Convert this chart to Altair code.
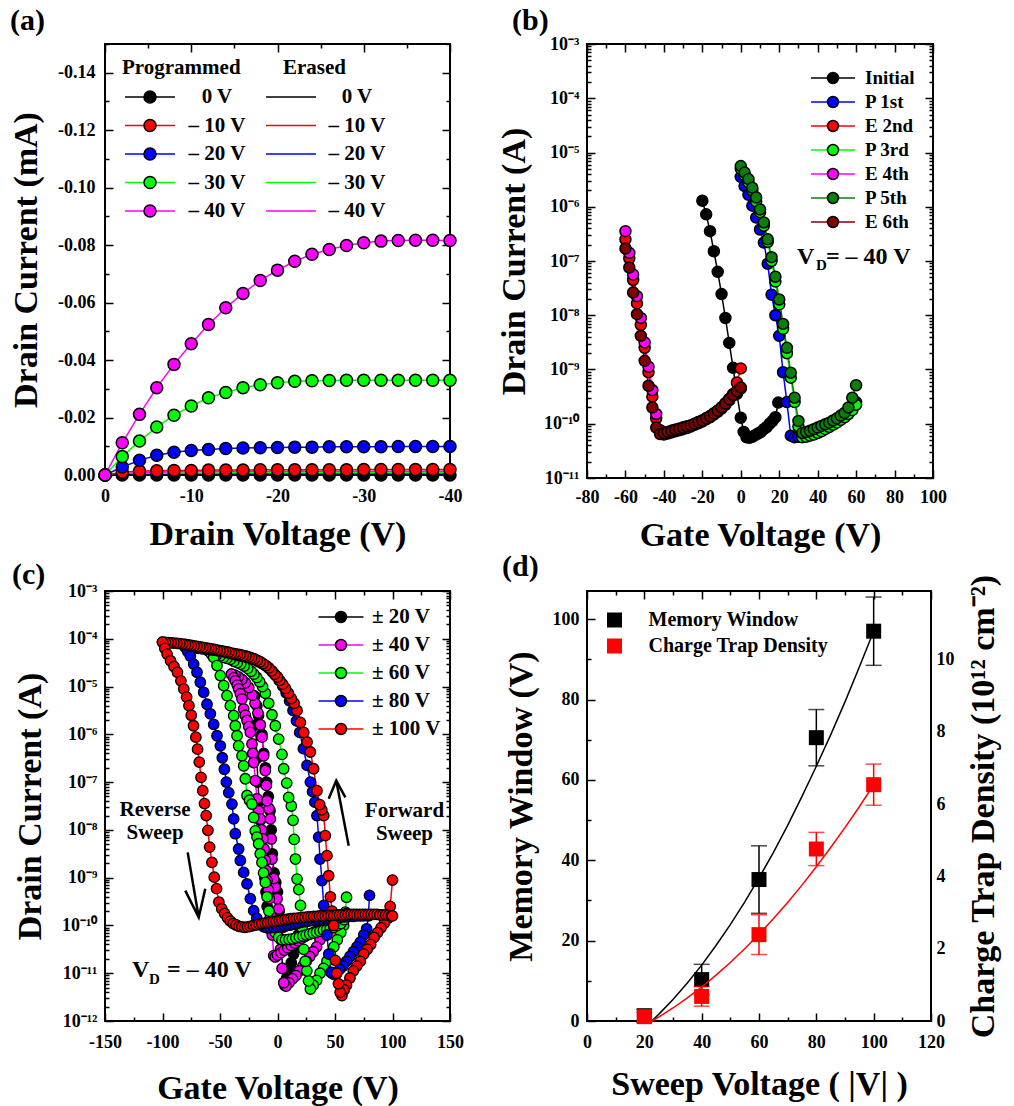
import altair as alt
import pandas as pd

FONT = "Liberation Serif"
EN = "\u2013"

# ---------------- (a) output characteristics ----------------
A_VD = [0, -2, -4, -6, -8, -10, -12, -14, -16, -18, -20, -22, -24, -26, -28, -30, -32, -34, -36, -38, -40]
A_LABELS = ["0 V", EN + " 10 V", EN + " 20 V", EN + " 30 V", EN + " 40 V"]
A_COLORS = ["#000000", "#ff0000", "#0000ff", "#00ff00", "#ff00ff"]
A_PROG_0 = [0, 0, 0, 0, 0, 0, 0, 0, 0, 0, 0, 0, 0, 0, 0, 0, 0, 0, 0, 0, 0]
A_PROG_10 = [0, -.0010, -.0014, -.0015, -.0016, -.0016, -.0017, -.0017, -.0017, -.0018, -.0018, -.0018, -.0018, -.0018, -.0018, -.0019, -.0019, -.0019, -.0019, -.0019, -.0019]
A_PROG_20 = [0, -.0028, -.0051, -.0069, -.0079, -.0085, -.0089, -.0092, -.0094, -.0095, -.0096, -.0097, -.0097, -.0098, -.0098, -.0098, -.0098, -.0099, -.0099, -.0099, -.0099]
A_PROG_30 = [0, -.0064, -.0118, -.0167, -.0208, -.0240, -.0269, -.0287, -.0304, -.0314, -.0321, -.0326, -.0328, -.0329, -.0330, -.0330, -.0330, -.0330, -.0330, -.0330, -.0330]
A_PROG_40 = [0, -.0112, -.0211, -.0304, -.0385, -.0457, -.0524, -.0582, -.0632, -.0677, -.0713, -.0744, -.0768, -.0785, -.0799, -.0808, -.0814, -.0816, -.0817, -.0817, -.0816]
A_ERASE_0 = [0, 0, 0, 0, 0, 0, 0, 0, 0, 0, 0, 0, 0, 0, 0, 0, 0, 0, 0, 0, 0]
A_ERASE_10 = [0, -.0001, -.0001, -.0002, -.0002, -.0002, -.0002, -.0002, -.0002, -.0002, -.0002, -.0002, -.0002, -.0002, -.0002, -.0002, -.0002, -.0002, -.0002, -.0002, -.0002]
A_ERASE_20 = [0, -.0002, -.0003, -.0003, -.0004, -.0004, -.0004, -.0004, -.0004, -.0004, -.0004, -.0004, -.0004, -.0004, -.0004, -.0004, -.0004, -.0004, -.0004, -.0004, -.0004]
A_ERASE_30 = [0, -.0003, -.0005, -.0006, -.0007, -.0007, -.0007, -.0008, -.0008, -.0008, -.0008, -.0008, -.0008, -.0008, -.0008, -.0008, -.0008, -.0008, -.0008, -.0008, -.0008]
A_ERASE_40 = [0, -.0005, -.0008, -.0010, -.0011, -.0012, -.0012, -.0013, -.0013, -.0013, -.0013, -.0013, -.0013, -.0013, -.0013, -.0013, -.0013, -.0013, -.0013, -.0013, -.0013]
A_X_TICKS = [0, -5, -10, -15, -20, -25, -30, -35, -40]
A_Y_TICKS = [0, -0.01, -0.02, -0.03, -0.04, -0.05, -0.06, -0.07, -0.08, -0.09, -0.10, -0.11, -0.12, -0.13, -0.14, -0.15]

# ---------------- (b) transfer curves, P/E cycles (log10 of current in A) ----------------
B_LABELS = ["Initial", "P 1st", "E 2nd", "P 3rd", "E 4th", "P 5th", "E 6th"]
B_COLORS = ["#000000", "#0000ff", "#ff0000", "#00ff00", "#ff00ff", "#0a800a", "#800000"]
B_V_INIT = [-20, -18, -16, -14, -12, -10, -8, -6, -4, -2, 0, 1.5, 3, 4.5, 6, 7.5, 9, 10.5, 12, 13.5, 15, 16.5, 18, 19.5]
B_L_INIT = [-5.89, -6.14, -6.45, -6.82, -7.20, -7.61, -8.05, -8.51, -8.97, -9.45, -9.89, -10.15, -10.25, -10.26, -10.24, -10.21, -10.18, -10.15, -10.1, -10.06, -10.0, -9.95, -9.88, -9.61]
B_V_P = [0, 2, 4, 6, 8, 10, 12, 14, 16, 18, 20, 22, 24, 26, 28, 30, 32, 34, 36, 38, 40, 42, 44, 46, 48, 50, 52, 54, 56, 58, 60]
B_L_P1 = [-5.45, -5.62, -5.78, -5.98, -6.2, -6.42, -6.66, -7.05, -7.62, -8.0, -8.38, -9.05, -9.6, -10.22, -10.25, -10.24, -10.22, -10.2, -10.18, -10.16, -10.13, -10.1, -10.07, -10.04, -10.0, -9.96, -9.92, -9.87, -9.8, -9.72, -9.6]
B_L_P3 = [-5.3, -5.42, -5.55, -5.7, -5.9, -6.1, -6.35, -6.65, -7.0, -7.38, -7.8, -8.25, -8.7, -9.15, -9.6, -10.05, -10.25, -10.24, -10.22, -10.2, -10.17, -10.14, -10.1, -10.06, -10.02, -9.98, -9.93, -9.88, -9.82, -9.75, -9.65]
B_L_P5 = [-5.25, -5.37, -5.49, -5.65, -5.83, -6.05, -6.29, -6.60, -6.93, -7.29, -7.71, -8.16, -8.60, -9.06, -9.52, -9.95, -10.17, -10.15, -10.13, -10.1, -10.07, -10.04, -10.01, -9.98, -9.94, -9.9, -9.85, -9.8, -9.7, -9.52, -9.29]
B_V_E = [-60, -58, -56, -54, -52, -50, -48, -46, -44, -42, -40, -38, -36, -34, -32, -30, -28, -26, -24, -22, -20, -18, -16, -14, -12, -10, -8, -6, -4, -2, 0]
B_L_E2 = [-6.60, -6.95, -7.35, -7.78, -8.18, -8.6, -9.05, -9.5, -9.9, -10.15, -10.17, -10.15, -10.13, -10.11, -10.09, -10.07, -10.05, -10.03, -10.0, -9.97, -9.94, -9.9, -9.86, -9.81, -9.76, -9.7, -9.62, -9.54, -9.45, -9.24, -8.98]
B_L_E4 = [-6.45, -6.85, -7.25, -7.65, -8.05, -8.5, -8.95, -9.38, -9.82, -10.12, -10.2, -10.18, -10.16, -10.14, -10.12, -10.1, -10.08, -10.05, -10.02, -9.99, -9.96, -9.92, -9.88, -9.83, -9.78, -9.72, -9.65, -9.57, -9.48, -9.4, -9.35]
B_L_E6 = [-6.77, -7.12, -7.58, -7.98, -8.38, -8.84, -9.30, -9.70, -10.07, -10.19, -10.17, -10.15, -10.13, -10.11, -10.09, -10.07, -10.05, -10.03, -10.0, -9.97, -9.94, -9.9, -9.86, -9.81, -9.76, -9.7, -9.63, -9.55, -9.47, -9.4, -9.33]
B_X_TICKS = [-80, -70, -60, -50, -40, -30, -20, -10, 0, 10, 20, 30, 40, 50, 60, 70, 80, 90, 100]
B_DECADES = [-11, -10, -9, -8, -7, -6, -5, -4, -3]
B_VD_TEXT = (29.2, -7.06)

# ---------------- (c) hysteresis for sweep ranges (log10 of current in A) ----------------
C_LABELS = ["\u00b1 20 V", "\u00b1 40 V", "\u00b1 60 V", "\u00b1 80 V", "\u00b1 100 V"]
C_COLORS = ["#000000", "#ff00ff", "#00ff00", "#0000ff", "#ff0000"]
C20_FV = [20, 18, 16, 14, 12, 10, 8, 6.5, 5.5, 4.5, 3, 1.5, 0, -1.5, -3, -4.5, -5.5, -6.5, -8, -9.5, -10.5, -12, -13.5, -15, -16.5, -18, -20]
C20_FL = [-9.95, -10.2, -10.4, -10.6, -10.78, -10.95, -11.1, -11.26, -11.2, -10.9, -10.3, -9.7, -9.3, -9.1, -8.9, -8.5, -8.0, -7.6, -7.3, -7.0, -6.7, -6.4, -6.0, -5.8, -5.6, -5.4, -5.2]
C20_RV = [-20, -19, -18, -17, -16, -15, -14, -13, -12, -11, -10, -9, -7.5, -5.5, -3.5, -1.5, 0.5, 2.5, 4.5, 6.5, 8.5, 10.5, 12.5, 14.5, 16.5, 18.5, 20]
C20_RL = [-5.2, -5.8, -6.5, -7.0, -7.4, -7.8, -8.1, -8.4, -8.7, -9.0, -9.3, -9.6, -9.9, -10.1, -10.12, -10.1, -10.08, -10.06, -10.04, -10.02, -10.0, -9.99, -9.98, -9.97, -9.96, -9.95, -9.95]
C40_FV = [40, 37, 34, 31, 28, 25, 22, 19, 16, 13, 10, 7.5, 5.5, 4, 2.5, 1, -0.4, -2, -3.3, -4.8, -5.4, -6.2, -7.5, -9.1, -9.7, -10.6, -12.1, -13.5, -15, -17, -19.5, -22, -25, -28, -31, -34, -37, -40]
C40_FL = [-10.14, -10.3, -10.45, -10.55, -10.65, -10.75, -10.85, -10.95, -11.05, -11.12, -11.2, -11.27, -11.2, -10.9, -10.5, -9.65, -9.44, -9.2, -9.02, -8.61, -8.19, -7.77, -7.55, -7.39, -7.07, -6.76, -6.45, -6.06, -5.8, -5.55, -5.35, -5.18, -5.02, -4.92, -4.85, -4.8, -4.76, -4.74]
C40_RV = [-40, -38, -36.7, -35, -33.8, -32.3, -30.9, -29.4, -28, -26.5, -25, -23.6, -22.2, -21.5, -20.7, -19.3, -17.8, -16.4, -15, -13.8, -12.6, -11.6, -10.6, -9.8, -9.1, -8, -7.1, -6, -4.5, -3.3, -1.9, 0, 3, 6, 9, 12, 15, 18, 21, 24, 27, 30, 33, 36, 40]
C40_RL = [-4.74, -4.82, -4.88, -4.97, -5.05, -5.15, -5.26, -5.47, -5.6, -5.71, -5.84, -5.96, -6.20, -6.4, -6.59, -6.97, -7.35, -7.6, -7.77, -8.0, -8.19, -8.4, -8.64, -8.85, -9.06, -9.25, -9.44, -9.8, -10.2, -10.63, -10.66, -10.62, -10.57, -10.52, -10.47, -10.42, -10.37, -10.32, -10.27, -10.23, -10.19, -10.16, -10.13, -10.1, -10.07]
C60_FV = [60, 59, 57.5, 55, 52, 49, 46, 43, 40, 37, 34, 31, 28.6, 27, 25.5, 24, 22.8, 21.4, 20, 18.5, 17, 15.6, 14.5, 13.5, 12, 9.7, 8, 5.4, 3.9, 1, -1.9, -4.8, -7.7, -10.6, -13, -15.5, -18, -20.5, -23, -26, -29, -32, -35, -38, -41, -44, -47, -50, -53, -56, -60]
C60_FL = [-9.41, -9.72, -10.0, -10.15, -10.3, -10.45, -10.6, -10.75, -10.9, -11.0, -11.15, -11.25, -11.33, -11.16, -10.95, -10.75, -10.5, -10.05, -9.58, -9.25, -9.03, -8.61, -8.2, -7.8, -7.5, -7.32, -7.02, -6.72, -6.42, -6.10, -5.82, -5.59, -5.35, -5.14, -5.0, -4.9, -4.81, -4.74, -4.68, -4.62, -4.57, -4.53, -4.5, -4.47, -4.43, -4.41, -4.39, -4.36, -4.34, -4.31, -4.25]
C60_RV = [-60, -57.5, -55.5, -52.6, -49.7, -46.8, -43.9, -41, -38.1, -36.7, -35.2, -33.8, -30.9, -29.4, -28, -26.5, -24.3, -22.2, -20.7, -19.3, -17.8, -16.4, -15, -13.5, -12.1, -10.6, -9.1, -7.5, -5, -2, 1, 4, 7, 10, 13, 16, 19, 22, 25, 28, 31, 34, 37, 40, 43, 46, 49, 52, 55, 58, 60]
C60_RL = [-4.25, -4.32, -4.39, -4.56, -4.77, -4.98, -5.19, -5.40, -5.61, -5.82, -6.03, -6.24, -6.45, -6.66, -6.93, -7.28, -7.38, -7.46, -7.74, -8.02, -8.15, -8.29, -8.5, -8.68, -8.9, -9.1, -9.4, -9.7, -9.95, -10.15, -10.25, -10.3, -10.3, -10.29, -10.28, -10.26, -10.24, -10.22, -10.2, -10.18, -10.16, -10.14, -10.12, -10.1, -10.08, -10.06, -10.04, -10.0, -9.96, -9.88, -9.75]
C80_FV = [80, 79, 77.5, 75, 72, 69, 66, 63, 60, 57, 54, 51, 48.5, 46.5, 44.5, 43, 41.5, 40.2, 38.7, 37, 35.8, 34.3, 32.5, 30.5, 28.6, 25.7, 22.5, 19.3, 16.5, 13.5, 10.5, 7.5, 4.5, 1.5, -1.5, -4.5, -7.5, -10.5, -13.5, -16.5, -20, -23.5, -27, -30.5, -34, -37.5, -41, -44.5, -48, -51.5, -55, -58.5, -62, -65.5, -69, -72.5, -76, -80]
C80_FL = [-9.37, -9.8, -10.07, -10.2, -10.35, -10.45, -10.55, -10.65, -10.75, -10.85, -10.92, -11.0, -11.02, -10.98, -10.6, -10.2, -9.9, -9.58, -9.06, -8.61, -8.15, -7.70, -7.42, -7.2, -7.0, -6.65, -6.3, -5.96, -5.72, -5.5, -5.3, -5.13, -4.99, -4.87, -4.77, -4.69, -4.62, -4.56, -4.52, -4.48, -4.44, -4.41, -4.39, -4.37, -4.35, -4.33, -4.31, -4.29, -4.27, -4.25, -4.24, -4.23, -4.22, -4.21, -4.2, -4.19, -4.185, -4.18]
C80_RV = [-80, -78, -75.8, -72.9, -70, -67.1, -64.2, -61.3, -58.4, -55.5, -52.6, -49.7, -48, -46.2, -44.5, -42.4, -39.6, -38.1, -36.7, -33.8, -32.3, -29.4, -26.5, -23.6, -20.7, -18, -15, -12, -9, -6, -3, 0, 3, 6, 9, 12, 15, 18, 21, 24, 27, 30, 33, 36, 39, 42, 45, 48, 51, 54, 57, 60, 63, 66, 69, 72, 75, 78, 80]
C80_RL = [-4.18, -4.27, -4.36, -4.53, -4.70, -4.91, -5.12, -5.37, -5.57, -5.79, -6.03, -6.24, -6.49, -6.73, -7.0, -7.22, -7.46, -7.77, -8.08, -8.40, -8.64, -8.89, -9.13, -9.44, -9.69, -9.85, -9.97, -10.03, -10.05, -10.05, -10.04, -10.03, -10.02, -10.0, -9.99, -9.98, -9.96, -9.95, -9.93, -9.92, -9.91, -9.9, -9.89, -9.88, -9.87, -9.86, -9.85, -9.84, -9.83, -9.83, -9.82, -9.82, -9.81, -9.81, -9.8, -9.8, -9.8, -9.79, -9.79]
C100_FV = [100, 98, 96, 93, 90, 87, 84, 81, 78, 75, 72, 69, 66, 63, 60, 58, 56, 54.5, 53, 51.5, 50.3, 48.9, 47.5, 46, 44.5, 43, 41.6, 40.2, 38.5, 36.7, 34.3, 31.4, 28.6, 25.7, 22.8, 19.9, 17, 14.5, 12, 9.5, 7, 4.5, 2, 0, -2.5, -5, -7.5, -10, -12.5, -15, -17.5, -20, -22.5, -25, -27.5, -30, -32.5, -35, -37.5, -40, -42.5, -45, -47.5, -50, -52.5, -55, -57.5, -60, -62.5, -65, -67.5, -70, -72.5, -75, -77.5, -80, -82.5, -85, -87.5, -90, -92.5, -95, -97.5, -100]
C100_FL = [-9.05, -9.6, -9.85, -9.95, -10.05, -10.15, -10.25, -10.4, -10.5, -10.6, -10.75, -10.85, -10.95, -11.1, -11.25, -11.35, -11.47, -11.4, -11.22, -11.0, -10.73, -10.0, -9.7, -9.4, -8.96, -8.54, -8.12, -7.70, -7.58, -7.47, -7.18, -6.72, -6.37, -6.16, -5.96, -5.75, -5.50, -5.35, -5.25, -5.14, -5.04, -4.95, -4.87, -4.80, -4.74, -4.67, -4.61, -4.56, -4.52, -4.48, -4.45, -4.42, -4.40, -4.38, -4.36, -4.35, -4.33, -4.32, -4.31, -4.30, -4.28, -4.27, -4.26, -4.25, -4.24, -4.22, -4.21, -4.20, -4.19, -4.18, -4.17, -4.16, -4.15, -4.14, -4.13, -4.12, -4.11, -4.10, -4.095, -4.09, -4.085, -4.08, -4.075, -4.07]
C100_RV = [-100, -98, -96, -93, -90, -87, -84, -81.5, -79, -77, -75, -73, -71, -69.5, -68, -66.5, -65, -63.5, -62, -60.5, -59, -57, -55, -53, -51, -48.5, -46, -43.5, -41, -38.5, -36, -33.5, -31, -28.5, -26, -23.5, -21, -18.5, -16, -13.5, -11, -8.5, -6, -3.5, -1, 1.5, 4, 6.5, 9, 11.5, 14, 16.5, 19, 21.5, 24, 26.5, 29, 31.5, 34, 36.5, 39, 41.5, 44, 46.5, 49, 51.5, 54, 56.5, 59, 61.5, 64, 66.5, 69, 71.5, 74, 76.5, 79, 81.5, 84, 86.5, 89, 91.5, 94, 96.5, 99, 100]
C100_RL = [-4.07, -4.20, -4.32, -4.46, -4.58, -4.70, -4.88, -5.05, -5.22, -5.40, -5.60, -5.82, -6.06, -6.31, -6.58, -6.90, -7.18, -7.45, -7.70, -8.01, -8.36, -8.68, -8.99, -9.23, -9.51, -9.65, -9.75, -9.84, -9.91, -9.96, -9.99, -10.02, -10.03, -10.04, -10.03, -10.02, -10.00, -9.99, -9.97, -9.96, -9.95, -9.94, -9.93, -9.92, -9.91, -9.90, -9.89, -9.88, -9.87, -9.86, -9.85, -9.85, -9.84, -9.83, -9.83, -9.82, -9.82, -9.81, -9.81, -9.80, -9.80, -9.80, -9.79, -9.79, -9.79, -9.78, -9.78, -9.78, -9.78, -9.77, -9.77, -9.77, -9.77, -9.77, -9.77, -9.77, -9.77, -9.77, -9.77, -9.77, -9.78, -9.78, -9.78, -9.79, -9.80, -9.80]
C_X_TICKS = [-150, -125, -100, -75, -50, -25, 0, 25, 50, 75, 100, 125, 150]
C_DECADES = [-12, -11, -10, -9, -8, -7, -6, -5, -4, -3]
C_VD_TEXT = (-126.5, -11.08)
C_REV_TEXT = (-106.5, -7.70, -8.19)
C_FWD_TEXT = (110.4, -7.72, -8.22)
C_ARROW_DOWN = {"shaft": [(-78.1, -8.47), (-68.5, -9.83)], "head": [(-80.2, -9.27), (-68.5, -9.83), (-62.8, -9.23)]}
C_ARROW_UP = {"shaft": [(61.9, -8.33), (51.1, -6.97)], "head": [(44.5, -7.35), (51.1, -6.97), (59.0, -7.32)]}

# ---------------- (d) memory window & charge trap density ----------------
D_SWEEP = [20, 40, 60, 80, 100]
D_MW = [1.3, 10.3, 35.2, 70.5, 97.0]
D_MW_ERR = [1.6, 3.8, 8.4, 7.0, 8.5]
D_CT = [0.12, 0.68, 2.39, 4.76, 6.54]
D_CT_ERR = [0.12, 0.27, 0.55, 0.46, 0.57]
D_FIT_X = [22.6, 25, 30, 35, 40, 45, 50, 55, 60, 65, 70, 75, 80, 85, 90, 95, 100]
D_MW_FIT = [0, 1.65, 5.37, 9.47, 13.9, 18.8, 24.0, 29.6, 35.6, 41.9, 48.7, 55.9, 63.4, 71.2, 79.4, 88.1, 97.0]
D_CT_FIT = [0, 0.11, 0.36, 0.64, 0.94, 1.27, 1.62, 2.0, 2.40, 2.83, 3.28, 3.76, 4.27, 4.80, 5.35, 5.93, 6.54]
D_LABELS = ["Memory Window", "Charge Trap Density"]
D_COLORS = ["#000000", "#ff0000"]
D_X_TICKS = [0, 10, 20, 30, 40, 50, 60, 70, 80, 90, 100, 110, 120]
D_YL_TICKS = [0, 10, 20, 30, 40, 50, 60, 70, 80, 90, 100]
D_YR_TICKS = [0, 1, 2, 3, 4, 5, 6, 7, 8, 9, 10, 11]

# ---------------- panel sizes ----------------
W_A, H_A = 345, 431
W_B, H_B = 346, 434
W_C, H_C = 345, 430
W_D, H_D = 344, 430

SUP = str.maketrans("-0123456789", "\u207b\u2070\u00b9\u00b2\u00b3\u2074\u2075\u2076\u2077\u2078\u2079")


def lin_test(step):
    return f"abs(datum.value / {step} - round(datum.value / {step})) < 0.0001"


LOG_E = "round(log(datum.value) / LN10)"
LOG_TEST = f"abs(log(datum.value) / LN10 - {LOG_E}) < 0.001"


def log_label(decades):
    inner = "''"
    for k in decades:
        inner = f"{LOG_E} == {k} ? '10{str(k).translate(SUP)}' : ({inner})"
    return inner


def make_axis(title, values, test, label, major, minor, **kw):
    return alt.Axis(
        title=title, values=values,
        labelExpr=f"({test}) ? ({label}) : ''",
        gridDash={"condition": {"test": test, "value": major}, "value": minor},
        **kw)


def sym(L, length):
    return [L, length - 2 * L, L, 6000]


def log_ticks(decades):
    vals = []
    for d in decades:
        vals.append(10.0 ** d)
        if d != decades[-1]:
            for k in [2, 3, 4, 5, 6, 7, 8, 9]:
                vals.append(k * 10.0 ** d)
    return vals


def leg(**kw):
    base = dict(orient="none", direction="vertical", padding=0, labelLimit=400,
                labelFont=FONT, labelFontWeight="bold", labelColor="black",
                titleFont=FONT, titleFontWeight="bold", titleColor="black",
                symbolOpacity=1)
    base.update(kw)
    return alt.Legend(**base)


def series_frame(groups, xname):
    rows = []
    for lab, xs, ls in groups:
        for i, (x, l) in enumerate(zip(xs, ls)):
            rows.append({xname: x, "id": 10.0 ** l, "s": lab, "sl": lab + "  ", "idx": i})
    return pd.DataFrame(rows)


# ======================= panel (a) =======================
a_prog = []
for lab, vals in zip(A_LABELS, [A_PROG_0, A_PROG_10, A_PROG_20, A_PROG_30, A_PROG_40]):
    for i, (v, c) in enumerate(zip(A_VD, vals)):
        a_prog.append({"vd": v, "id": c, "p": lab, "pl": lab + "  ", "idx": i})
a_prog = pd.DataFrame(a_prog)
a_er = []
for lab, vals in zip(A_LABELS, [A_ERASE_0, A_ERASE_10, A_ERASE_20, A_ERASE_30, A_ERASE_40]):
    for i, (v, c) in enumerate(zip(A_VD, vals)):
        a_er.append({"vd": v, "id": c, "e": lab + " ", "idx": i})
a_er = pd.DataFrame(a_er)

ax_a_x = make_axis("Drain Voltage (V)", A_X_TICKS, lin_test(10),
                   "datum.value == 0 ? '0' : '-' + format(abs(datum.value), 'd')",
                   sym(8, H_A), sym(4, H_A), labelPadding=12, titlePadding=12)
ax_a_y = make_axis("Drain Current (mA)", A_Y_TICKS, lin_test(0.02),
                   "abs(datum.value) < 0.000001 ? '0.00' : '-' + format(abs(datum.value), '.2f')",
                   sym(8, W_A), sym(4, W_A), labelPadding=10, titlePadding=14)
xa = alt.X("vd:Q", scale=alt.Scale(domain=[0, -40], nice=False, zero=False), axis=ax_a_x)
ya = alt.Y("id:Q", scale=alt.Scale(domain=[0, -0.15], nice=False, zero=False), axis=ax_a_y)

A_LEG = dict(labelFontSize=21, titleFontSize=21, titlePadding=8.5, rowPadding=6.5, legendY=13)
a_erase_layer = alt.Chart(a_er).mark_line(strokeWidth=1.5).encode(
    x=xa, y=ya, order="idx:Q",
    color=alt.Color("e:N", scale=alt.Scale(domain=[l + " " for l in A_LABELS], range=A_COLORS),
                    legend=leg(title="Erased", legendX=178, symbolOffset=-2.5, labelOffset=55.5,
                               labelAlign="center", symbolType="M-5,0H5", symbolSize=100,
                               symbolStrokeWidth=1.5, symbolFillColor="transparent",
                               labelExpr="trim(datum.label)", **A_LEG)))
a_line_layer = alt.Chart(a_prog).mark_line(strokeWidth=1.5).encode(
    x=xa, y=ya, order="idx:Q",
    stroke=alt.Stroke("pl:N", scale=alt.Scale(domain=[l + "  " for l in A_LABELS], range=A_COLORS),
                      legend=leg(title="Programmed", legendX=17, symbolOffset=17.5, labelOffset=56.5,
                                 labelAlign="center", symbolType="M-5,0H5", symbolSize=100,
                                 symbolStrokeWidth=1.5, symbolFillColor="transparent",
                                 labelOpacity=0, titleOpacity=0, zindex=1, **A_LEG)))
a_pt_layer = alt.Chart(a_prog).mark_point(filled=True, shape="circle", size=144, stroke="black",
                                          strokeWidth=1.5, opacity=1).encode(
    x=xa, y=ya,
    fill=alt.Fill("p:N", scale=alt.Scale(domain=A_LABELS, range=A_COLORS),
                  legend=leg(title="Programmed", legendX=17, symbolOffset=17.5, labelOffset=56.5,
                             labelAlign="center", symbolType="circle", symbolSize=144,
                             symbolStrokeColor="black", symbolStrokeWidth=1.5, zindex=2, **A_LEG)))
panel_a = alt.layer(a_erase_layer, a_line_layer, a_pt_layer).properties(
    width=W_A, height=H_A,
    title=alt.TitleParams("(a)", anchor="start", frame="group", dx=-95, offset=-1))

# ======================= panel (b) =======================
b_df = series_frame([
    (B_LABELS[0], B_V_INIT, B_L_INIT), (B_LABELS[1], B_V_P, B_L_P1), (B_LABELS[2], B_V_E, B_L_E2),
    (B_LABELS[3], B_V_P, B_L_P3), (B_LABELS[4], B_V_E, B_L_E4), (B_LABELS[5], B_V_P, B_L_P5),
    (B_LABELS[6], B_V_E, B_L_E6)], "vg")
ax_b_x = make_axis("Gate Voltage (V)", B_X_TICKS, lin_test(20),
                   "datum.value < 0 ? '-' + abs(datum.value) : '' + datum.value",
                   sym(8, H_B), sym(4, H_B), labelPadding=10, titlePadding=12)
ax_b_y = make_axis("Drain Current (A)", log_ticks(B_DECADES), LOG_TEST, log_label(B_DECADES),
                   sym(8, W_B), sym(4, W_B), labelPadding=8, titlePadding=12)
xb = alt.X("vg:Q", scale=alt.Scale(domain=[-80, 100], nice=False, zero=False), axis=ax_b_x)
yb = alt.Y("id:Q", scale=alt.Scale(type="log", domain=[1e-11, 1e-3], nice=False), axis=ax_b_y)
B_LEG = dict(title=None, labelFontSize=19, rowPadding=4, legendX=236.5, legendY=24.5, labelOffset=22.5)
b_lines = alt.Chart(b_df).mark_line(strokeWidth=1.5).encode(
    x=xb, y=yb, order="idx:Q",
    stroke=alt.Stroke("sl:N", scale=alt.Scale(domain=[l + "  " for l in B_LABELS], range=B_COLORS),
                      legend=leg(symbolType="M-4.4,0H4.4", symbolSize=100, symbolStrokeWidth=1.5,
                                 symbolFillColor="transparent", labelOpacity=0, zindex=1, **B_LEG)))
b_pts = alt.Chart(b_df).mark_point(filled=True, shape="circle", size=121, stroke="black",
                                   strokeWidth=1.5, opacity=1).encode(
    x=xb, y=yb,
    fill=alt.Fill("s:N", scale=alt.Scale(domain=B_LABELS, range=B_COLORS),
                  legend=leg(symbolType="circle", symbolSize=121, symbolStrokeColor="black",
                             symbolStrokeWidth=1.5, zindex=2, **B_LEG)))
b_txt_df = pd.DataFrame([{"vg": B_VD_TEXT[0], "id": 10.0 ** B_VD_TEXT[1]}])
b_t1 = alt.Chart(b_txt_df).mark_text(text="V", align="left", baseline="alphabetic", font=FONT,
                                     fontWeight="bold", fontSize=24).encode(x=xb, y=yb)
b_t2 = alt.Chart(b_txt_df).mark_text(text="D", align="left", baseline="alphabetic", font=FONT,
                                     fontWeight="bold", fontSize=15, dx=19, dy=6).encode(x=xb, y=yb)
b_t3 = alt.Chart(b_txt_df).mark_text(text="= " + EN + " 40 V", align="left", baseline="alphabetic",
                                     font=FONT, fontWeight="bold", fontSize=24, dx=29).encode(x=xb, y=yb)
panel_b = alt.layer(b_lines, b_pts, b_t1, b_t2, b_t3).properties(
    width=W_B, height=H_B,
    title=alt.TitleParams("(b)", anchor="start", frame="group", dx=-75, offset=-1))

# ======================= panel (c) =======================
c_groups = [
    (C_LABELS[0], C20_FV + C20_RV, C20_FL + C20_RL),
    (C_LABELS[1], C40_FV + C40_RV, C40_FL + C40_RL),
    (C_LABELS[2], C60_FV + C60_RV, C60_FL + C60_RL),
    (C_LABELS[3], C80_FV + C80_RV, C80_FL + C80_RL),
    (C_LABELS[4], C100_FV + C100_RV, C100_FL + C100_RL)]
c_df = series_frame(c_groups, "vg")
ax_c_x = make_axis("Gate Voltage (V)", C_X_TICKS, lin_test(50),
                   "datum.value < 0 ? '-' + abs(datum.value) : '' + datum.value",
                   sym(8, H_C), sym(4, H_C), labelPadding=12, titlePadding=20)
ax_c_y = make_axis("Drain Current (A)", log_ticks(C_DECADES), LOG_TEST, log_label(C_DECADES),
                   sym(8, W_C), sym(4, W_C), labelPadding=8, titlePadding=14)
xc = alt.X("vg:Q", scale=alt.Scale(domain=[-150, 150], nice=False, zero=False), axis=ax_c_x)
yc = alt.Y("id:Q", scale=alt.Scale(type="log", domain=[1e-12, 1e-3], nice=False), axis=ax_c_y)
C_LEG = dict(title=None, labelFontSize=21, rowPadding=6, legendX=225.5, legendY=15.5, labelOffset=20.5)
c_lines = alt.Chart(c_df).mark_line(strokeWidth=1.5).encode(
    x=xc, y=yc, order="idx:Q",
    stroke=alt.Stroke("sl:N", scale=alt.Scale(domain=[l + "  " for l in C_LABELS], range=C_COLORS),
                      legend=leg(symbolType="M-4.5,0H4.5", symbolSize=100, symbolStrokeWidth=1.5,
                                 symbolFillColor="transparent", labelOpacity=0, zindex=1, **C_LEG)))
c_pts = alt.Chart(c_df).mark_point(filled=True, shape="circle", size=110, stroke="black",
                                   strokeWidth=1.3, opacity=1).encode(
    x=xc, y=yc,
    fill=alt.Fill("s:N", scale=alt.Scale(domain=C_LABELS, range=C_COLORS),
                  legend=leg(symbolType="circle", symbolSize=121, symbolStrokeColor="black",
                             symbolStrokeWidth=1.5, zindex=2, **C_LEG)))
arrow_rows = []
for name, arrow in [("down", C_ARROW_DOWN), ("up", C_ARROW_UP)]:
    for part, pts in arrow.items():
        for i, (v, l) in enumerate(pts):
            arrow_rows.append({"vg": v, "id": 10.0 ** l, "g": name + part, "idx": i})
c_arrows = alt.Chart(pd.DataFrame(arrow_rows)).mark_line(color="black", strokeWidth=2.5).encode(
    x=xc, y=yc, detail="g:N", order="idx:Q")
c_txt = pd.DataFrame([
    {"vg": C_REV_TEXT[0], "id": 10.0 ** C_REV_TEXT[1], "t": "Reverse"},
    {"vg": C_REV_TEXT[0], "id": 10.0 ** C_REV_TEXT[2], "t": "Sweep"},
    {"vg": C_FWD_TEXT[0], "id": 10.0 ** C_FWD_TEXT[1], "t": "Forward"},
    {"vg": C_FWD_TEXT[0], "id": 10.0 ** C_FWD_TEXT[2], "t": "Sweep"}])
c_words = alt.Chart(c_txt).mark_text(align="center", baseline="alphabetic", font=FONT,
                                     fontWeight="bold", fontSize=21).encode(x=xc, y=yc, text="t:N")
c_vd_df = pd.DataFrame([{"vg": C_VD_TEXT[0], "id": 10.0 ** C_VD_TEXT[1]}])
c_t1 = alt.Chart(c_vd_df).mark_text(text="V", align="left", baseline="alphabetic", font=FONT,
                                    fontWeight="bold", fontSize=24).encode(x=xc, y=yc)
c_t2 = alt.Chart(c_vd_df).mark_text(text="D", align="left", baseline="alphabetic", font=FONT,
                                    fontWeight="bold", fontSize=15, dx=17, dy=7).encode(x=xc, y=yc)
c_t3 = alt.Chart(c_vd_df).mark_text(text="= " + EN + " 40 V", align="left", baseline="alphabetic",
                                    font=FONT, fontWeight="bold", fontSize=24, dx=35).encode(x=xc, y=yc)
panel_c = alt.layer(c_lines, c_pts, c_arrows, c_words, c_t1, c_t2, c_t3).properties(
    width=W_C, height=H_C,
    title=alt.TitleParams("(c)", anchor="start", frame="group", dx=-93, offset=-8))

# ======================= panel (d) =======================
d_pts = pd.DataFrame({"sv": D_SWEEP, "mw": D_MW, "mw_lo": [m - e for m, e in zip(D_MW, D_MW_ERR)],
                      "mw_hi": [m + e for m, e in zip(D_MW, D_MW_ERR)], "ct": D_CT,
                      "ct_lo": [m - e for m, e in zip(D_CT, D_CT_ERR)],
                      "ct_hi": [m + e for m, e in zip(D_CT, D_CT_ERR)],
                      "s1": D_LABELS[0], "s2": D_LABELS[1]})
d_fit = pd.DataFrame({"sv": D_FIT_X, "mw": D_MW_FIT, "ct": D_CT_FIT})
ax_d_x = make_axis("Sweep Voltage ( |V| )", D_X_TICKS, lin_test(20), "'' + datum.value",
                   sym(8, H_D), sym(4, H_D), labelPadding=12, titlePadding=16)
ax_d_yl = make_axis("Memory Window (V)", D_YL_TICKS, lin_test(20), "'' + datum.value",
                    [8, 6000], [4, 6000], labelPadding=8, titlePadding=14)
ax_d_yr = make_axis("Charge Trap Density (10\u00b9\u00b2 cm\u207b\u00b2)", D_YR_TICKS, lin_test(2),
                    "'' + datum.value", [8, 6000], [4, 6000], orient="right", labelPadding=5,
                    titlePadding=12, titleAngle=270, titleBaseline="top")
xd = alt.X("sv:Q", scale=alt.Scale(domain=[0, 120], nice=False, zero=False), axis=ax_d_x)
sc_l = alt.Scale(domain=[0, 107], nice=False, zero=False)
sc_r = alt.Scale(domain=[0, 11.9], nice=False, zero=False)
d_color = dict(scale=alt.Scale(domain=D_LABELS, range=D_COLORS),
               legend=leg(title=None, symbolType="square", symbolSize=225, symbolStrokeWidth=0,
                          labelFontSize=20, rowPadding=6, legendX=17.5, legendY=19, labelOffset=24))
mw_line = alt.Chart(d_fit).mark_line(color="black", strokeWidth=1.5).encode(
    x=xd, y=alt.Y("mw:Q", scale=sc_l, axis=ax_d_yl))
mw_err = alt.Chart(d_pts).mark_errorbar(ticks=True, size=16, thickness=1.5, color="black").encode(
    x=xd, y=alt.Y("mw_lo:Q", scale=sc_l, axis=ax_d_yl), y2="mw_hi:Q")
mw_sq = alt.Chart(d_pts).mark_point(shape="square", filled=True, size=225, opacity=1).encode(
    x=xd, y=alt.Y("mw:Q", scale=sc_l, axis=ax_d_yl), color=alt.Color("s1:N", **d_color))
ct_line = alt.Chart(d_fit).mark_line(color="red", strokeWidth=1.5).encode(
    x=xd, y=alt.Y("ct:Q", scale=sc_r, axis=ax_d_yr))
ct_err = alt.Chart(d_pts).mark_errorbar(ticks=True, size=16, thickness=1.5, color="red").encode(
    x=xd, y=alt.Y("ct_lo:Q", scale=sc_r, axis=ax_d_yr), y2="ct_hi:Q")
ct_sq = alt.Chart(d_pts).mark_point(shape="square", filled=True, size=225, opacity=1).encode(
    x=xd, y=alt.Y("ct:Q", scale=sc_r, axis=ax_d_yr), color=alt.Color("s2:N", **d_color))
panel_d = alt.layer(alt.layer(mw_line, mw_err, mw_sq), alt.layer(ct_line, ct_err, ct_sq)).resolve_scale(
    y="independent").properties(
    width=W_D, height=H_D,
    title=alt.TitleParams("(d)", anchor="start", frame="group", dx=-85, offset=-8))

chart = alt.concat(panel_a, panel_b, panel_c, panel_d, columns=2,
                   spacing={"row": 113, "column": 137}, bounds="flush").resolve_scale(
    fill="independent", stroke="independent", color="independent"
).resolve_legend(
    fill="independent", stroke="independent", color="independent"
).properties(
    padding={"left": 8, "top": 5, "right": 5, "bottom": 5}
).configure_view(stroke="black", strokeWidth=2).configure_axis(
    labelFont=FONT, labelFontSize=18, labelFontWeight="bold", labelColor="black",
    titleFont=FONT, titleFontSize=34, titleFontWeight="bold", titleColor="black",
    domain=False, ticks=False, grid=True, gridColor="black", gridOpacity=1, gridWidth=1.5,
    labelFlush=False, labelOverlap=False
).configure_title(font=FONT, fontSize=30, fontWeight="bold", color="black")

chart.save("out.html", embed_options={"renderer": "svg", "actions": False})
